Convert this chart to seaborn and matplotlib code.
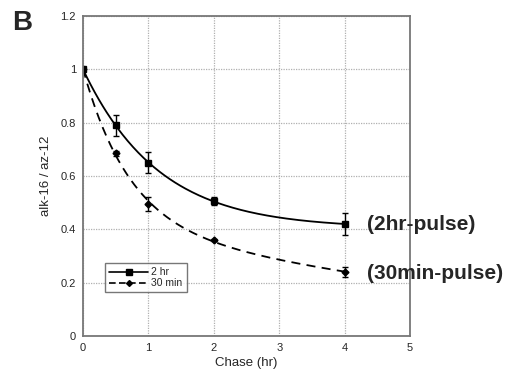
import numpy as np
import pandas as pd
import matplotlib
matplotlib.use("Agg")
import matplotlib.pyplot as plt
import seaborn as sns
from matplotlib.lines import Line2D

# -----------------------------
# Data
# -----------------------------
chase_hr = [0, 0.5, 1, 2, 4]
pulse_2hr = [1.0, 0.79, 0.65, 0.505, 0.42]
err_2hr = [0.0, 0.04, 0.04, 0.015, 0.04]
pulse_30min = [1.0, 0.685, 0.495, 0.36, 0.24]
err_30min = [0.0, 0.01, 0.025, 0.005, 0.02]

df = pd.DataFrame({"Chase": chase_hr, "p2": pulse_2hr, "e2": err_2hr,
                   "p30": pulse_30min, "e30": err_30min})


def decay_fit(x, y):
    # least squares fit of y = a + b*exp(-k1*x) + c*exp(-k2*x), scanning k1, k2
    x = np.asarray(x, float)
    y = np.asarray(y, float)
    ks = np.linspace(0.05, 6, 80)
    best = None
    for i, k1 in enumerate(ks):
        for k2 in ks[i + 1:]:
            A = np.column_stack([np.ones_like(x), np.exp(-k1 * x), np.exp(-k2 * x)])
            coef, *_ = np.linalg.lstsq(A, y, rcond=None)
            r = np.sum((A @ coef - y) ** 2)
            if best is None or r < best[0]:
                best = (r, k1, k2, coef)
    _, k1, k2, (a, b, c) = best
    xs = np.linspace(x.min(), x.max(), 200)
    return pd.DataFrame({"Chase": xs,
                         "fit": a + b * np.exp(-k1 * xs) + c * np.exp(-k2 * xs)})


fit2 = decay_fit(chase_hr, pulse_2hr)
fit30 = decay_fit(chase_hr, pulse_30min)

sns.set_style("white")
plt.rcParams['font.family'] = ['Liberation Sans', 'DejaVu Sans']

fig = plt.figure(figsize=(5.09, 3.79), dpi=100)
ax = fig.add_axes([83/509, 1 - 336/379, 327/509, 320/379])

# smooth fitted curves
sns.lineplot(x="Chase", y="fit", data=fit2, color="black", lw=1.3, ax=ax)
sns.lineplot(x="Chase", y="fit", data=fit30, color="black", lw=1.3,
             ls=(0, (5, 3.5)), ax=ax)

# points with error bars
ax.errorbar(df["Chase"], df["p2"], yerr=df["e2"], fmt="s", color="black",
            ms=5, capsize=2.5, elinewidth=1, capthick=1)
ax.errorbar(df["Chase"], df["p30"], yerr=df["e30"], fmt="D", color="black",
            ms=3.5, capsize=2.5, elinewidth=1, capthick=1)

ax.set_xlim(0, 5)
ax.set_ylim(0, 1.2)
ax.set_xticks([0, 1, 2, 3, 4, 5])
ax.set_yticks([0, 0.2, 0.4, 0.6, 0.8, 1.0, 1.2])
ax.set_yticklabels(["0", "0.2", "0.4", "0.6", "0.8", "1", "1.2"])
ax.grid(True, color="#b0b0b0", ls=(0, (1, 1)), lw=0.9)
ax.tick_params(labelsize=8, length=0, pad=5)
for s in ax.spines.values():
    s.set_color("#777777")
    s.set_linewidth(1.3)

ax.set_xlabel("Chase (hr)", fontsize=9.5, labelpad=3)
ax.set_ylabel("alk-16 / az-12", fontsize=9.5, labelpad=6)

handles = [Line2D([], [], color="black", marker="s", ms=4, lw=1.2),
           Line2D([], [], color="black", marker="D", ms=3, lw=1.2, ls=(0, (4, 2)))]
leg = ax.legend(handles, ["2 hr", "30 min"], loc="lower left",
                bbox_to_anchor=(0.05, 0.12), fontsize=7.5, frameon=True,
                fancybox=False, handlelength=3.8, handletextpad=0.3,
                borderpad=0.4, labelspacing=0.1)
leg.get_frame().set_edgecolor("#555555")
leg.get_frame().set_linewidth(1.0)

ax.text(4.34, 0.42, "(2hr-pulse)", fontsize=15, fontweight="bold",
        va="center", ha="left", clip_on=False)
ax.text(4.34, 0.235, "(30min-pulse)", fontsize=15, fontweight="bold",
        va="center", ha="left", clip_on=False)

fig.text(12/509, 1 - 23/379, "B", fontsize=20, fontweight="bold",
         va="center", ha="left")

fig.savefig("out.png", dpi=100)
